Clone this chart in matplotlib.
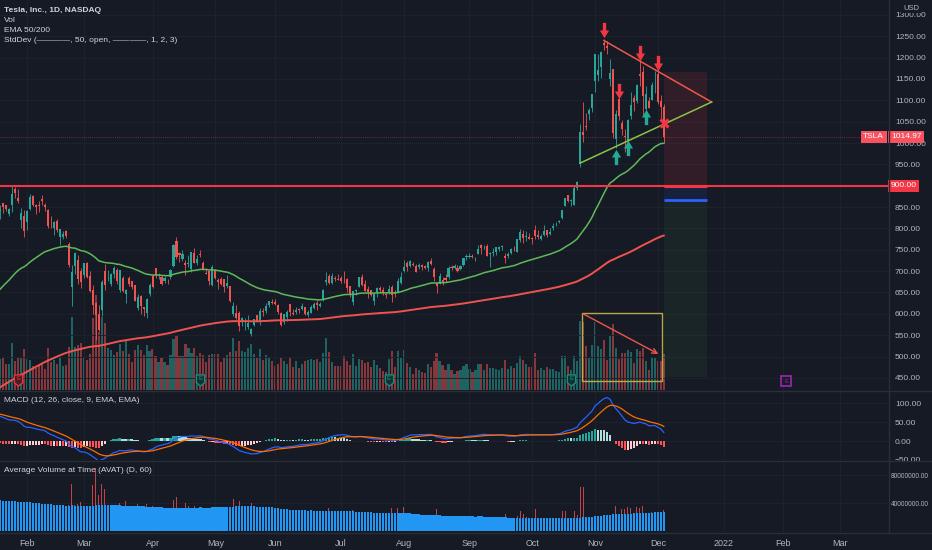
import numpy as np
import pandas as pd
import matplotlib
matplotlib.use("Agg")
import matplotlib.pyplot as plt
import matplotlib.transforms as mtransforms
from matplotlib.patches import Rectangle
from matplotlib.lines import Line2D
from matplotlib.path import Path

plt.rcParams['font.family'] = ['Liberation Sans Narrow', 'Liberation Sans', 'DejaVu Sans']

BG = '#161a25'
GRID = '#1e222d'
SEP = '#2a2e39'
TXT = '#b2b5be'
UP = '#26a69a'
DN = '#ef5350'

# daily TSLA candles, 2021-01-19 .. 2021-12-03
open_ = [
    841, 858.7, 855, 834.3, 855, 891.4, 870.35, 820, 830,
    814.29, 844.68, 877.02, 855, 855, 869.67, 855.12, 843.64, 812.44, 801.26, 818, 779.09, 780.9, 795, 762.64, 662.13, 711.85, 726.15, 700,
    690.11, 718.28, 687.99, 655.8, 626.06, 600.55, 608.18, 700.3, 699.4, 670, 694.09, 703.35, 656.87, 684.29, 646.6, 684.59, 675.77, 667.91, 613, 641.87, 615.64, 601.75, 646.62,
    688.37, 707.71, 690.3, 687, 677.38, 677.77, 685.7, 712.7, 770.7, 743.1, 728.65, 719.6, 717.42, 704.77, 741.5, 719.8, 741, 717.96, 696.41, 699.51, 667.59,
    703.8, 678.94, 681.06, 680.76, 665.8, 664.9, 599.24, 602.49, 601.54, 583.41, 575.55, 568, 552.55, 575, 596.11, 581.6, 607.31, 607.56, 620.24, 628.5,
    627.8, 620.13, 601.8, 579.71, 591.83, 623.01, 602.17, 603.88, 610.23, 612.23, 616.69, 597.54, 601.89, 613.37, 624.48, 618.25, 632, 674.99, 689.58, 671.64, 684.65, 679.77,
    683.92, 678.98, 681.71, 664.27, 628.37, 653.18, 662.2, 686.32, 670.75, 658.39, 654.68, 629.89, 651.99, 659.61, 656.44, 646.36, 650.97, 663.4, 647, 649.79, 671.76,
    700, 719, 711, 716, 711.9, 710.17, 713.99, 712.71, 706.34, 723.71, 705.07, 672.66, 669.75, 678.21, 682.85, 685.44, 710.68, 707.03, 708.31, 705, 714.72, 733,
    734.08, 734.5, 732.25, 740, 761.58, 753.41, 759.6, 740.21, 742.57, 745, 752.83, 757.15, 734.56, 734.79, 743.53, 755, 745.89, 773.12, 787.2, 779.8, 781,
    778.4, 796.5, 784.8, 776.2, 785.46, 796.21, 787.65, 800.93, 810.47, 815.49, 823.73, 851.77, 877.53, 865.35, 856, 895.5, 950.53, 1024.69, 1039.66, 1068.31, 1081.86,
    1145, 1159.36, 1177.33, 1234.41, 1228, 1149.79, 1173.6, 1010.41, 1102.77, 1047.5, 1017.63, 1003.31, 1063.51, 1106.55, 1098.87, 1162.33, 1167.51, 1080.39, 1099.47, 1100.99, 1144.37,
    1160.7, 1099.06, 1084.79,
]
high = [
    856, 859.5, 855.7, 848, 900.4, 895.9, 891.5, 848, 842.41,
    842, 880.5, 878.08, 856.5, 864.77, 877.77, 859.8, 844.82, 829.88, 817.33, 821, 799.84, 794.69, 796.79, 768.5, 713.61, 745, 737.21, 706.7,
    719, 721.11, 700.7, 668.45, 627.84, 620.13, 678.09, 717.85, 702.5, 694.88, 713.18, 707.92, 703.73, 689.23, 657.23, 689.3, 677.8, 668.02, 645.5, 643.82, 616.48, 637.66, 672,
    692.42, 708.16, 696.55, 691.38, 689.55, 680.97, 704.8, 763, 780.79, 743.69, 749.41, 725.4, 737.25, 744.84, 753.77, 737.36, 749.3, 724, 708.5, 702.25, 715.47,
    706, 683.45, 685.3, 681.02, 690, 665.05, 627.1, 620.41, 606.46, 592.87, 589.73, 596.25, 566.21, 588.85, 596.68, 614.48, 613.99, 626.17, 631.13, 635.59,
    633.8, 623.36, 604.55, 600.61, 610, 623.09, 611.79, 616.59, 612.56, 625.49, 616.79, 608.5, 621.47, 628.35, 631.39, 628.57, 657.2, 697.62, 693.81, 694.7, 687.51, 692.81,
    687.99, 700, 684, 665.7, 654.43, 658.91, 687.24, 693.28, 678.61, 666.14, 656.7, 647.2, 662.39, 664.86, 662.17, 648.8, 668.2, 666.5, 654.97, 683.69, 697.53,
    726.94, 722.65, 724.9, 720.95, 716.33, 719.03, 716.59, 715.18, 722.8, 729.9, 709.5, 674.58, 695.77, 686.55, 692.13, 712.13, 715.22, 716.97, 715.4, 715, 731, 740.39,
    741.99, 740.97, 734, 760.2, 764.45, 762.1, 762.61, 744.78, 754.47, 756.86, 758.91, 761.04, 742, 744.74, 753.67, 758.2, 774.8, 799, 795.64, 793.5, 789.13,
    780.78, 806.97, 797.31, 786.66, 808.22, 796.38, 801.24, 812.32, 815.41, 820.25, 843.21, 872, 877.95, 869.49, 900, 910, 1045.02, 1094.94, 1070.88, 1081, 1115.21,
    1208.59, 1208.59, 1215.39, 1243.49, 1239.87, 1197, 1174.5, 1078.1, 1104.97, 1054.5, 1031.98, 1057.2, 1119.64, 1112, 1138.72, 1201.95, 1180.5, 1132.77, 1108.78, 1142.67, 1168,
    1172.84, 1113, 1090.58,
]
low = [
    823, 837.3, 841.4, 828.6, 838.8, 871.6, 858.66, 801, 780.1,
    795.56, 842.2, 853.06, 833.42, 838.97, 854.75, 841.75, 800.02, 801.73, 785.33, 792.44, 762.01, 776.27, 777.37, 710.2, 619, 694.17, 670.58, 659.51,
    685.05, 685, 651.71, 600, 539.49, 558.79, 595.21, 655.06, 677.18, 666.14, 684.04, 671, 651.01, 652, 624.62, 666, 657.51, 630.11, 609.5, 599.89, 596.02, 591.01, 641.11,
    659.42, 684.7, 681.37, 667.84, 671.65, 669.43, 682.09, 710.66, 728.03, 721.31, 724.6, 691.8, 710.69, 698, 718.04, 715.46, 732.61, 703.35, 693.6, 668.5, 666.14,
    680.5, 657.7, 667.34, 650, 660.22, 627.61, 595.6, 586.77, 559.65, 570.46, 561.2, 563.38, 546.98, 571.07, 580, 573.65, 595.71, 601.5, 616.21, 622.38,
    620.55, 599.14, 571.22, 577.2, 582.88, 595.5, 597.63, 600.5, 601.52, 609.18, 598.23, 593.5, 601.34, 611.8, 608.88, 615.5, 630.04, 667.61, 668.7, 670.32, 675.89, 678.14,
    672.8, 673.26, 651.4, 638.32, 620.46, 644.69, 662.16, 666.3, 652.84, 637.88, 642.2, 621.29, 640.5, 650.29, 644.6, 637.3, 647.11, 627.24, 639.4, 648.8, 669,
    698.4, 701.01, 708.93, 711.41, 697.63, 705.13, 701.88, 704.21, 699.4, 714.34, 676.4, 648.84, 669.35, 667.59, 673.7, 680.75, 702.64, 704, 697.62, 702.1, 712.73, 726.44,
    731.27, 730.54, 724.2, 739.26, 740.77, 751.63, 734.52, 708.85, 736.4, 738.36, 747.61, 750, 718.62, 730.44, 739.12, 747.92, 744.56, 769.31, 766.18, 770.68, 775,
    763.59, 776.12, 774.2, 773.22, 783.38, 780.91, 785.5, 796.57, 805.78, 813.35, 822.35, 851.4, 862.51, 853.56, 855.5, 890.96, 944.2, 1001.44, 1030.78, 1054.2, 1073.21,
    1118.66, 1146, 1152.62, 1217, 1208, 1133, 1011.52, 987.31, 1054.68, 1019.2, 978.6, 1002.18, 1055.5, 1075.02, 1092.7, 1132.43, 1062.7, 1062, 1081, 1100.19, 1118,
    1090.76, 1056.65, 1000.21,
]
close = [
    844.55, 850.45, 844.99, 846.64, 880.8, 883.09, 864.16, 835.43, 793.53,
    839.81, 872.79, 854.69, 849.99, 852.23, 863.42, 849.46, 804.82, 811.66, 816.12, 796.22, 798.15, 787.38, 781.3, 714.5, 698.84, 742.02, 682.22, 675.5,
    718.43, 686.44, 653.2, 621.44, 597.95, 563, 673.58, 668.06, 699.6, 693.73, 707.94, 676.88, 701.81, 653.16, 654.87, 670, 662.16, 630.27, 640.39, 618.71, 611.29, 635.62, 667.93,
    661.75, 691.05, 691.62, 670.97, 683.8, 677.02, 701.98, 762.32, 732.23, 738.85, 739.78, 714.63, 718.99, 744.12, 719.69, 729.4, 738.2, 704.74, 694.4, 677, 709.44,
    684.9, 673.6, 670.94, 663.54, 672.37, 629.04, 617.2, 589.89, 571.69, 589.74, 576.83, 577.87, 563.46, 586.78, 580.88, 606.44, 604.69, 619.13, 630.85, 625.22,
    623.9, 605.12, 572.84, 599.05, 605.13, 603.59, 598.78, 610.12, 609.89, 617.69, 599.36, 604.87, 616.6, 623.31, 620.83, 623.71, 656.57, 679.82, 671.87, 688.72, 680.76, 679.7,
    677.92, 678.9, 659.58, 644.65, 652.81, 656.95, 685.7, 668.54, 653.38, 650.6, 644.22, 646.22, 660.5, 655.29, 649.26, 643.38, 657.62, 644.78, 646.98, 677.35, 687.2,
    709.67, 709.74, 724.45, 714.63, 699.1, 713.76, 709.99, 707.82, 722.25, 717.17, 686.17, 665.71, 688.99, 673.47, 680.26, 706.3, 708.49, 711.2, 701.16, 711.92, 730.91, 735.72,
    734.09, 732.39, 733.57, 752.92, 753.87, 754.86, 736.27, 743, 744.49, 755.83, 756.99, 759.49, 730.17, 739.38, 751.94, 753.64, 774.39, 791.36, 777.56, 781.31, 775.48,
    775.22, 781.53, 780.59, 782.75, 793.61, 785.49, 791.94, 805.72, 811.08, 818.32, 843.03, 870.11, 864.27, 865.8, 894, 909.68, 1024.86, 1018.43, 1037.86, 1077.04, 1114,
    1208.59, 1172, 1213.86, 1229.91, 1222.09, 1162.94, 1023.5, 1067.95, 1063.51, 1033.42, 1013.39, 1054.73, 1089.01, 1096.38, 1137.06, 1156.87, 1109.03, 1116, 1081.92, 1136.99, 1144.76,
    1095, 1084.6, 1014.97,
]
# volume in millions of shares
volume_m = [
    25, 25.7, 20.5, 20, 41, 23.1, 27.3, 26.4, 35.0,
    25.4, 24.3, 18.3, 15.8, 18.6, 20.2, 15.2, 36.2, 21.6, 23.8, 19.8, 25.9, 18.0, 19.0, 37.3, 66.6, 36.8, 39.0, 41.0,
    27.1, 23.7, 30.2, 65.9, 89.4, 51.8, 67.5, 60.6, 36.3, 33.6, 29.4, 32.2, 40.4, 33.2, 42.9, 30.5, 21.9, 33.8, 39.2, 33.7, 28.6, 39.3, 33.3,
    35.3, 28.3, 22.1, 26.3, 22.3, 18.9, 29.1, 44.7, 49.0, 27.9, 27.9, 39.7, 35.6, 31.2, 35.6, 28.4, 31.4, 29.4, 22.3, 28.6, 29.8,
    29.8, 30.3, 21.9, 27.1, 29.0, 31.9, 46.1, 33.1, 43.3, 33.3, 32.4, 36.4, 39.6, 30.0, 26.0, 34.6, 24.2, 28.6, 26.4, 22.7,
    18.0, 20.5, 25.6, 22.9, 20.1, 26.1, 16.6, 23.3, 16.2, 19.9, 22.6, 23.8, 24.7, 24.4, 24.8, 21.9, 31.2, 45.9, 32.5, 21.6, 17.9, 17.8,
    18.0, 27.6, 23.3, 18.8, 30.0, 18.1, 24.6, 24.0, 21.5, 22.0, 16.7, 24.2, 19.3, 16.4, 12.6, 11.8, 25.0, 32.8, 17.0, 33.3, 26.0,
    33.6, 21.0, 17.5, 10.2, 15.6, 14.2, 12.5, 10.9, 20.0, 16.7, 22.7, 30.9, 23.5, 18.7, 14.3, 20.3, 13.8, 10.2, 13.1, 13.9, 18.5, 20.3,
    15.5, 12.1, 14.2, 20.4, 20.5, 14.4, 20.0, 16.4, 16.0, 15.5, 14.2, 15.9, 24.5, 15.3, 18.1, 15.8, 21.4, 28.1, 24.0, 20.4, 17.0,
    17.3, 31.1, 14.4, 16.0, 14.5, 16.6, 14.6, 15.1, 13.5, 12.3, 28.2, 28.1, 18.3, 14.2, 28.3, 22.6, 62.9, 62.4, 38.5, 26.0, 39.4,
    62.1, 37.9, 34.7, 44.3, 24.4, 48.5, 59.7, 35.7, 25.0, 31.5, 30.8, 33.7, 32.3, 21.3, 34.9, 32.6, 36.3, 23.0, 14.4, 26.6, 27.2,
    22.8, 22.8, 30.1,
]

ema50_seed, ema200_seed = 650, 424
ema12_seed, ema26_seed, signal_seed = 822, 754, 72
avat_seed = 44e6

holidays = ['2021-02-15', '2021-04-02', '2021-05-31', '2021-07-05', '2021-09-06',
            '2021-11-25', '2021-12-24', '2022-01-17', '2022-02-21']
month_dates = ['2021-02-01', '2021-03-01', '2021-04-01', '2021-05-03', '2021-06-01', '2021-07-01',
               '2021-08-02', '2021-09-01', '2021-10-01', '2021-11-01', '2021-12-01', '2022-01-03',
               '2022-02-01', '2022-03-01']
month_labels = ['Feb', 'Mar', 'Apr', 'May', 'Jun', 'Jul', 'Aug', 'Sep', 'Oct', 'Nov', 'Dec', '2022', 'Feb', 'Mar']

earnings = [('2021-01-27', 'miss'), ('2021-04-26', 'beat'), ('2021-07-26', 'beat'),
            ('2021-10-20', 'beat'), ('2022-02-02', 'future')]
sell_marks = [('2021-11-04', 1264), ('2021-11-11', 1122), ('2021-11-22', 1211), ('2021-12-01', 1187)]
buy_marks = [('2021-11-10', 967), ('2021-11-16', 988), ('2021-11-24', 1061)]
cross_mark = ('2021-12-03', 1047)
tri_upper = [('2021-11-04', 1240), ('2021-12-28', 1096)]
tri_lower = [('2021-10-25', 953), ('2021-12-28', 1096)]
vol_box = ('2021-10-25', '2021-12-02', 443, 602)
vol_arrow = [('2021-10-25', 602), ('2021-12-02', 503)]
level_900 = 900
last_price = 1014.97
short_pos = ('2021-12-03', '2021-12-23', 1166, 900, 866, 452)

tdays = pd.bdate_range('2021-01-19', '2022-03-31', freq='C', holidays=holidays)
pos = {d.strftime('%Y-%m-%d'): i for i, d in enumerate(tdays)}
n = len(close)
x = np.arange(n)
o = np.array(open_); h = np.array(high); l = np.array(low); c = np.array(close)
vol = np.array(volume_m)


def ema(vals, span, seed):
    a = 2.0 / (span + 1)
    e = seed
    out = []
    for v in vals:
        e = e + a * (v - e)
        out.append(e)
    return np.array(out)


ema50 = ema(c, 50, ema50_seed)
ema200 = ema(c, 200, ema200_seed)
macd = ema(c, 12, ema12_seed) - ema(c, 26, ema26_seed)
signal = ema(macd, 9, signal_seed)
hist = macd - signal

vol_abs = vol * 1e6
avat = []
for i in range(n):
    lo = max(0, i - 59)
    k = i - lo + 1
    avat.append((vol_abs[lo:i + 1].sum() + avat_seed * (60 - k)) / 60)
avat = np.array(avat)

# ---- figure ----
fig = plt.figure(figsize=(9.32, 5.5), dpi=100, facecolor=BG)
W = 888 / 932
axv = fig.add_axes([0, 160 / 550, W, 390 / 550])
ax = fig.add_axes([0, 160 / 550, W, 390 / 550])
axm = fig.add_axes([0, 90 / 550, W, 69 / 550])
axa = fig.add_axes([0, 18 / 550, W, 71 / 550])

xlim = (-0.03, 297)
mticks = [pos[d] for d in month_dates]
for a in (axv, ax, axm, axa):
    a.set_xlim(*xlim)
    for s in a.spines.values():
        s.set_visible(False)
    a.set_xticks(mticks)
    a.tick_params(axis='x', length=0, labelbottom=False)
    a.grid(True, color=GRID, lw=0.7)
    a.set_axisbelow(True)
axv.set_facecolor(BG)
axv.set_yticks([])
ax.patch.set_visible(False)
axv.set_zorder(0)
ax.set_zorder(1)

# volume in main pane
up = c >= o
axv.bar(x, vol + 6, bottom=-6, width=0.72, color=np.where(up, UP, DN), alpha=0.52, lw=0)
axv.set_ylim(-6, 384)
axv.grid(axis='y', visible=False)

# candles
ccol = np.where(up, UP, DN)
ax.vlines(x, l, h, colors=ccol, lw=0.6, zorder=3)
body = np.maximum(np.abs(c - o), 0.8)
ax.bar(x, body, bottom=np.minimum(o, c), width=0.7, color=ccol, lw=0, zorder=4)

ax.plot(x, ema50, color='#5fb95a', lw=1.1, zorder=5)
ax.plot(x, ema200, color='#ef5350', lw=1.4, zorder=5)

ax.set_ylim(421.6, 1335)
ax.set_yticks([v for v in range(450, 1301, 50) if v != level_900])
ax.yaxis.tick_right()
ax.yaxis.set_major_formatter('{x:.2f}')
ax.tick_params(axis='y', length=0, pad=5, labelsize=6, labelcolor=TXT)

# horizontal levels
ax.axhline(level_900, color='#f23645', lw=1.5, zorder=6)
ax.axhline(last_price, color='#f23645', lw=0.6, alpha=0.6, ls=(0, (1, 1.5)), zorder=2)

# short position tool
sx0 = pos[short_pos[0]]
sx1 = pos[short_pos[1]] + 0.5
top, entry, tgt, bot = short_pos[2:]
ax.add_patch(Rectangle((sx0, entry), sx1 - sx0, top - entry, color='#f23645', alpha=0.12, lw=0, zorder=2))
ax.add_patch(Rectangle((sx0, tgt), sx1 - sx0, entry - tgt, color='#2962ff', alpha=0.10, lw=0, zorder=2))
ax.add_patch(Rectangle((sx0, bot), sx1 - sx0, tgt - bot, color='#4caf50', alpha=0.08, lw=0, zorder=2))
ax.plot([sx0, sx1], [entry, entry], color='#f23645', lw=2.2, zorder=7, solid_capstyle='butt')
ax.plot([sx0, sx1], [tgt, tgt], color='#2962ff', lw=2.0, zorder=7, solid_capstyle='butt')

# triangle
ax.plot([pos[d] for d, _ in tri_upper], [p for _, p in tri_upper], color='#f0564a', lw=1.1, zorder=7)
ax.plot([pos[d] for d, _ in tri_lower], [p for _, p in tri_lower], color='#8bc34a', lw=1.1, zorder=7)

# arrows
down_arrow = Path([(-0.22, 1), (0.22, 1), (0.22, 0), (0.6, 0), (0, -1), (-0.6, 0), (-0.22, 0), (-0.22, 1)])
up_arrow = Path([(-0.22, -1), (0.22, -1), (0.22, 0), (0.6, 0), (0, 1), (-0.6, 0), (-0.22, 0), (-0.22, -1)])
for d, p in sell_marks:
    ax.plot(pos[d], p, marker=down_arrow, ms=11, color='#f23645', mec='none', zorder=8)
for d, p in buy_marks:
    ax.plot(pos[d], p, marker=up_arrow, ms=11, color='#22ab94', mec='none', zorder=8)
ax.plot(pos[cross_mark[0]], cross_mark[1], marker='x', ms=6, mew=2.2, color='#f23645', zorder=8)

# volume box with arrow
bx0 = pos[vol_box[0]] + 0.5
bx1 = pos[vol_box[1]] + 0.5
ax.add_patch(Rectangle((bx0, vol_box[2]), bx1 - bx0, vol_box[3] - vol_box[2], fill=False,
                       ec='#c9b64a', lw=1.0, alpha=0.9, zorder=7))
ax.annotate('', xy=(pos[vol_arrow[1][0]], vol_arrow[1][1]), xytext=(pos[vol_arrow[0][0]] + 0.5, vol_arrow[0][1]),
            arrowprops=dict(arrowstyle='->', color='#f0564a', lw=1.0, mutation_scale=9), zorder=8)

# earnings markers
shield = Path([(-0.75, 1), (0.75, 1), (0.75, -0.4), (0, -1), (-0.75, -0.4), (-0.75, 1)])
tr = mtransforms.blended_transform_factory(ax.transData, ax.transAxes)
for d, kind in earnings:
    xe = pos[d]
    if kind == 'future':
        ax.plot(xe, 0.023, marker='s', ms=7, mfc='none', mec='#9c27b0', mew=1.2, transform=tr, zorder=9, clip_on=False)
        ax.text(xe, 0.023, 'E', color='#9c27b0', fontsize=4.5, ha='center', va='center', transform=tr, zorder=10)
    else:
        ec = '#f23645' if kind == 'miss' else '#1f8f80'
        fc = '#4a1c24' if kind == 'miss' else '#0f3533'
        ax.plot(xe, 0.025, marker=shield, ms=8, mfc=fc, mec=ec, mew=0.9, transform=tr, zorder=9)
        ax.text(xe, 0.03, 'E', color=ec, fontsize=4.2, ha='center', va='center', transform=tr, zorder=10)

# price-scale labels
btr = mtransforms.blended_transform_factory(ax.transAxes, ax.transData)
ax.text(1 + 3 / 888, level_900, '900.00', transform=btr,
        color='white', fontsize=6, va='center', ha='left', clip_on=False, zorder=20,
        bbox=dict(boxstyle='square,pad=0.3', fc='#f23645', ec='none'))
ax.text(1 + 3 / 888, last_price, f'{last_price:.2f}', transform=btr, color='white', fontsize=6,
        va='center', ha='left', clip_on=False, zorder=20, bbox=dict(boxstyle='square,pad=0.3', fc='#f7525f', ec='none'))
ax.text(1 - 4 / 888, last_price, 'TSLA', transform=btr, color='white', fontsize=6,
        va='center', ha='right', clip_on=False, zorder=20, bbox=dict(boxstyle='square,pad=0.3', fc='#f7525f', ec='none'))

# MACD pane
axm.set_facecolor(BG)
hcol = []
for i, v in enumerate(hist):
    p = hist[i - 1] if i > 0 else v
    if v >= 0:
        hcol.append('#26a69a' if v >= p else '#b2dfdb')
    else:
        hcol.append('#ffcdd2' if v > p else '#ff5252')
axm.bar(x, hist, width=0.8, color=hcol, lw=0, zorder=2)
axm.plot(x, macd, color='#2962ff', lw=0.9, zorder=3)
axm.plot(x, signal, color='#ff6d00', lw=0.9, zorder=3)
axm.set_ylim(-50, 131.6)
axm.set_yticks([-50, 0, 50, 100])
axm.yaxis.tick_right()
axm.yaxis.set_major_formatter('{x:.2f}')
axm.tick_params(axis='y', length=0, pad=5, labelsize=6, labelcolor=TXT)

# AVAT pane
axa.set_facecolor(BG)
axa.bar(x, vol_abs, width=0.3, color='#c0434c', lw=0, zorder=2)
axa.bar(x, avat, width=0.8, color='#2196f3', lw=0, zorder=3)
axa.set_ylim(-1.4e6, 100e6)
axa.set_yticks([40e6, 80e6])
axa.yaxis.tick_right()
axa.yaxis.set_major_formatter('{x:.2f}')
axa.tick_params(axis='y', length=0, pad=2, labelsize=4.7, labelcolor=TXT)
axa.set_xticks(mticks, month_labels)
axa.tick_params(axis='x', labelbottom=True, labelsize=6.5, labelcolor=TXT, pad=5)

# pane separators
for yy in (390.5, 460.5, 532.5):
    fig.add_artist(Line2D([0, 1], [1 - yy / 550] * 2, color=SEP, lw=1.0, transform=fig.transFigure))
fig.add_artist(Line2D([W + 0.5 / 932] * 2, [1 - 532.5 / 550, 1], color=SEP, lw=1.0, transform=fig.transFigure))


# legends / titles
def ftext(xp, yp, s, **kw):
    fig.text(xp / 932, 1 - yp / 550, s, va='center', ha='left', **kw)


ftext(4, 11, 'Tesla, Inc., 1D, NASDAQ', color='#d1d4dc', fontsize=6, fontweight='bold')
ftext(4, 21, 'Vol', color='#d1d4dc', fontsize=6)
ftext(4, 31, 'EMA 50/200', color='#d1d4dc', fontsize=6)
ftext(4, 41, 'StdDev (\u2014\u2014\u2014\u2014, 50, open, \u2014\u2014\u2014\u2014, 1, 2, 3)', color='#d1d4dc', fontsize=6)
ftext(4, 400, 'MACD (12, 26, close, 9, EMA, EMA)', color='#d1d4dc', fontsize=6)
ftext(4, 471, 'Average Volume at Time (AVAT) (D, 60)', color='#d1d4dc', fontsize=6)
fig.text(903 / 932, 1 - 8 / 550, 'USD', color=TXT, fontsize=5.5, ha='left', va='center',
         bbox=dict(boxstyle='square,pad=0.2', fc=BG, ec='none'), zorder=30)

fig.savefig('out.png', dpi=100, facecolor=BG)
